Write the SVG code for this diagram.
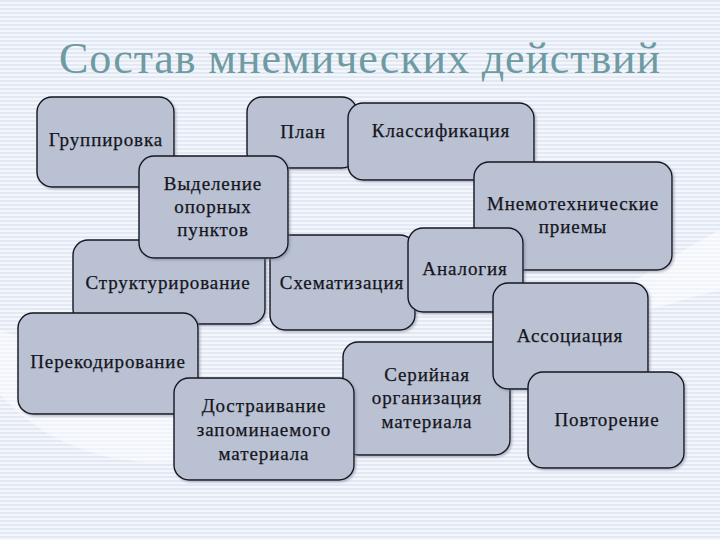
<svg xmlns="http://www.w3.org/2000/svg" width="720" height="540" viewBox="0 0 720 540">
<defs>
<pattern id="stripes" width="4" height="4" patternUnits="userSpaceOnUse">
<rect width="4" height="4" fill="#f3f6fb"/>
<rect y="0" width="4" height="2" fill="#e3e9f4"/>
</pattern>
<filter id="sh" x="-10%" y="-10%" width="130%" height="130%">
<feDropShadow dx="1.5" dy="1.5" stdDeviation="1.2" flood-color="#707890" flood-opacity="0.5"/>
</filter>
</defs>
<style>
.box{fill:#b9c1d3;stroke:#14141e;stroke-width:1.4;filter:url(#sh)}
.t{font-family:'Liberation Serif',serif;font-size:19px;letter-spacing:0.9px;fill:#15151c;stroke:#15151c;stroke-width:0.25;text-anchor:middle}
.title{font-family:'Liberation Serif',serif;font-size:44px;letter-spacing:0.9px;fill:#6e9aa2;text-anchor:middle}
</style>
<rect width="720" height="540" fill="url(#stripes)"/>
<path d="M0,330 C80,360 160,400 260,440 C200,470 120,470 60,440 C30,425 10,405 0,395 Z" fill="#ffffff" opacity="0.45"/>
<path d="M560,330 C620,290 680,250 720,230 L720,290 C680,300 620,320 560,330 Z" fill="#ffffff" opacity="0.5"/>
<text class="title" x="360" y="73">Состав мнемических действий</text>
<g id="connectors"></g>
<g id="n-gruppirovka"><rect class="box" x="37" y="97" width="137" height="90" rx="15"/><text class="t" x="106" y="146">Группировка</text></g>
<g id="n-plan"><rect class="box" x="247" y="97" width="110" height="71" rx="15"/><text class="t" x="303" y="138">План</text></g>
<g id="n-klass"><rect class="box" x="348" y="103" width="186" height="77" rx="15"/><text class="t" x="441" y="137">Классификация</text></g>
<g id="n-mnemo"><rect class="box" x="474" y="162" width="198" height="108" rx="15"/><text class="t" x="573" y="210">Мнемотехнические</text><text class="t" x="573" y="233">приемы</text></g>
<g id="n-shema"><rect class="box" x="270" y="235" width="145" height="95" rx="15"/><text class="t" x="342" y="289">Схематизация</text></g>
<g id="n-struct"><rect class="box" x="73" y="240" width="192" height="84" rx="15"/><text class="t" x="168" y="289">Структурирование</text></g>
<g id="n-vydel"><rect class="box" x="139" y="156" width="149" height="102" rx="15"/><text class="t" x="213" y="190">Выделение</text><text class="t" x="213" y="213">опорных</text><text class="t" x="213" y="236">пунктов</text></g>
<g id="n-analog"><rect class="box" x="408" y="228" width="115" height="84" rx="15"/><text class="t" x="465" y="275">Аналогия</text></g>
<g id="n-seria"><rect class="box" x="343" y="342" width="167" height="113" rx="15"/><text class="t" x="427" y="381">Серийная</text><text class="t" x="427" y="404">организация</text><text class="t" x="427" y="428">материала</text></g>
<g id="n-assoc"><rect class="box" x="493" y="283" width="155" height="106" rx="15"/><text class="t" x="570" y="342">Ассоциация</text></g>
<g id="n-povtor"><rect class="box" x="528" y="372" width="156" height="96" rx="15"/><text class="t" x="607" y="426">Повторение</text></g>
<g id="n-perekod"><rect class="box" x="18" y="313" width="180" height="101" rx="15"/><text class="t" x="108" y="368">Перекодирование</text></g>
<g id="n-dostr"><rect class="box" x="174" y="378" width="180" height="102" rx="15"/><text class="t" x="264" y="412">Достраивание</text><text class="t" x="264" y="436">запоминаемого</text><text class="t" x="264" y="460">материала</text></g>
</svg>
